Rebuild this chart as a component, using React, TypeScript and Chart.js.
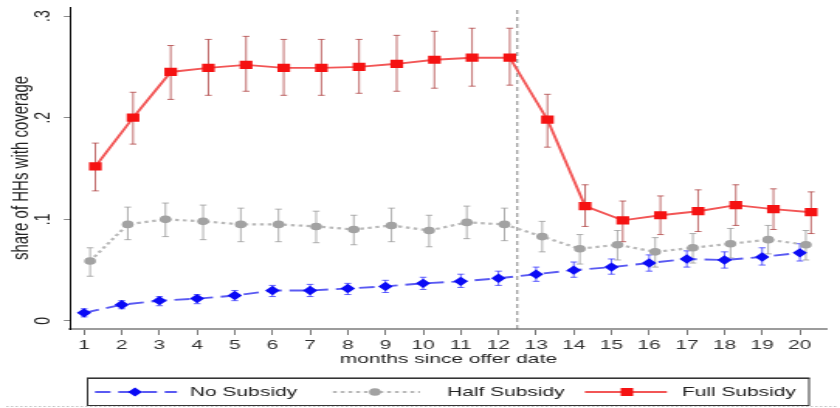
import React, { useEffect, useRef } from 'react';
import { Chart, registerables } from 'chart.js';

Chart.register(...registerables);

// ---------------- data ----------------
const months = [1, 2, 3, 4, 5, 6, 7, 8, 9, 10, 11, 12, 13, 14, 15, 16, 17, 18, 19, 20];
const monthLabels = ['1', '2', '3', '4', '5', '6', '7', '8', '9', '10', '11', '12', '13', '14', '15', '16', '17', '18', '19', '20'];
const yTickValues = [0, 0.1, 0.2, 0.3];
const yTickLabels = ['0', '.1', '.2', '.3'];
const seriesNames = ['No Subsidy', 'Half Subsidy', 'Full Subsidy'];
const treatmentEnd = 12.5;

const noSubsidy = [0.008, 0.016, 0.020, 0.022, 0.025, 0.030, 0.030, 0.032, 0.034, 0.037, 0.039, 0.042, 0.046, 0.050, 0.053, 0.057, 0.061, 0.060, 0.063, 0.067];
const noLo = [0.004, 0.012, 0.015, 0.017, 0.020, 0.024, 0.024, 0.026, 0.028, 0.031, 0.033, 0.035, 0.039, 0.043, 0.046, 0.049, 0.053, 0.052, 0.055, 0.059];
const noHi = [0.012, 0.020, 0.024, 0.026, 0.030, 0.035, 0.036, 0.037, 0.040, 0.043, 0.046, 0.049, 0.053, 0.058, 0.061, 0.065, 0.069, 0.068, 0.072, 0.076];

const halfSubsidy = [0.059, 0.095, 0.100, 0.098, 0.095, 0.095, 0.093, 0.090, 0.094, 0.089, 0.097, 0.095, 0.083, 0.071, 0.075, 0.068, 0.072, 0.076, 0.080, 0.075];
const halfLo = [0.044, 0.080, 0.083, 0.080, 0.078, 0.078, 0.077, 0.075, 0.078, 0.073, 0.081, 0.079, 0.068, 0.056, 0.060, 0.053, 0.057, 0.062, 0.066, 0.060];
const halfHi = [0.072, 0.112, 0.116, 0.114, 0.111, 0.110, 0.108, 0.104, 0.111, 0.104, 0.113, 0.111, 0.098, 0.085, 0.089, 0.082, 0.086, 0.091, 0.094, 0.089];

const fullSubsidy = [0.152, 0.200, 0.245, 0.249, 0.252, 0.249, 0.249, 0.250, 0.253, 0.257, 0.259, 0.259, 0.198, 0.113, 0.099, 0.104, 0.108, 0.114, 0.110, 0.107];
const fullLo = [0.128, 0.174, 0.218, 0.222, 0.226, 0.222, 0.222, 0.224, 0.226, 0.229, 0.231, 0.232, 0.171, 0.093, 0.078, 0.085, 0.088, 0.094, 0.090, 0.086];
const fullHi = [0.175, 0.225, 0.271, 0.277, 0.280, 0.277, 0.277, 0.277, 0.281, 0.285, 0.288, 0.288, 0.223, 0.134, 0.118, 0.123, 0.129, 0.134, 0.130, 0.127];

// horizontal jitter of the three series (in months)
const halfJitter = 0.16;
const fullJitter = 0.3;

// ---------------- look ----------------
const VIEW_W = 840;
const VIEW_H = 408;
const STRETCH = 1.55;
const CW = Math.round(VIEW_W / STRETCH);
const FONT = '"Liberation Sans", Arial, sans-serif';
const TEXT = '#222';

const BLUE = '#0a0af5';
const BLUE_LINE = '#5a5af2';
const GRAY = '#a2a2a2';
const GRAY_LINE = '#b8b8b8';
const RED = '#f51212';
const RED_LINE = '#f25656';

const errorBarPlugin = {
  id: 'errorBars',
  beforeDatasetsDraw(chart: any) {
    const { ctx } = chart;
    const xs = chart.scales.x;
    const ys = chart.scales.y;
    chart.data.datasets.forEach((ds: any) => {
      const eb = ds.errorBars;
      if (!eb) return;
      ctx.save();
      ctx.strokeStyle = eb.color;
      ctx.lineWidth = eb.width;
      const cap = 2.2;
      ds.data.forEach((pt: any, j: number) => {
        const px = xs.getPixelForValue(pt.x);
        const yl = ys.getPixelForValue(eb.lo[j]);
        const yh = ys.getPixelForValue(eb.hi[j]);
        ctx.beginPath();
        ctx.moveTo(px, yl);
        ctx.lineTo(px, yh);
        ctx.moveTo(px - cap, yl);
        ctx.lineTo(px + cap, yl);
        ctx.moveTo(px - cap, yh);
        ctx.lineTo(px + cap, yh);
        ctx.stroke();
      });
      ctx.restore();
    });
  },
};

const yLabelPlugin = {
  id: 'yRotLabels',
  afterDraw(chart: any) {
    const { ctx } = chart;
    const ys = chart.scales.y;
    ctx.save();
    ctx.font = `14px ${FONT}`;
    ctx.fillStyle = TEXT;
    ctx.textAlign = 'center';
    ctx.textBaseline = 'middle';
    ys.ticks.forEach((t: any, i: number) => {
      const py = ys.getPixelForValue(t.value);
      ctx.save();
      ctx.translate(ys.right - 17, py);
      ctx.rotate(-Math.PI / 2);
      ctx.fillText(yTickLabels[i], 0, 0);
      ctx.restore();
    });
    ctx.restore();
  },
};

function drawMarker(ctx: CanvasRenderingContext2D, kind: string, x: number, y: number, color: string) {
  ctx.fillStyle = color;
  ctx.beginPath();
  if (kind === 'rectRot') {
    ctx.moveTo(x, y - 4.6);
    ctx.lineTo(x + 4.6, y);
    ctx.lineTo(x, y + 4.6);
    ctx.lineTo(x - 4.6, y);
    ctx.closePath();
  } else if (kind === 'circle') {
    ctx.arc(x, y, 3.8, 0, Math.PI * 2);
  } else {
    ctx.rect(x - 4, y - 4, 8, 8);
  }
  ctx.fill();
}

const legendPlugin = {
  id: 'stataLegend',
  afterDraw(chart: any) {
    const { ctx } = chart;
    const top = 378;
    const bottom = 405;
    const left = 56;
    const right = 522.5;
    const cy = 392;
    ctx.save();
    // faint dotted frame line under the legend
    ctx.strokeStyle = '#c4c4c4';
    ctx.lineWidth = 1;
    ctx.setLineDash([1.5, 1.5]);
    ctx.beginPath();
    ctx.moveTo(4, 406.5);
    ctx.lineTo(CW - 2, 406.5);
    ctx.stroke();
    ctx.setLineDash([]);
    ctx.fillStyle = '#fff';
    ctx.fillRect(left, top, right - left, bottom - top);
    ctx.strokeStyle = '#8a8a8a';
    ctx.lineWidth = 2;
    ctx.beginPath();
    ctx.moveTo(left, top);
    ctx.lineTo(right, top);
    ctx.stroke();
    ctx.strokeStyle = '#333';
    ctx.lineWidth = 1;
    ctx.strokeRect(left + 0.5, top + 0.5, right - left - 1, bottom - top);

    const items = [
      { x0: 61.3, x1: 114.2, mx: 87.1, tx: 122.6, line: BLUE_LINE, lw: 1.8, dash: [10, 5], marker: 'rectRot', mc: BLUE, label: seriesNames[0] },
      { x0: 214.8, x1: 271, mx: 241.9, tx: 288.4, line: GRAY_LINE, lw: 2.2, dash: [2.5, 2.5], marker: 'circle', mc: GRAY, label: seriesNames[1] },
      { x0: 377.4, x1: 430.3, mx: 404.5, tx: 440, line: RED_LINE, lw: 1.8, dash: [], marker: 'rect', mc: RED, label: seriesNames[2] },
    ];
    items.forEach((it) => {
      ctx.strokeStyle = it.line;
      ctx.lineWidth = it.lw;
      ctx.setLineDash(it.dash);
      ctx.beginPath();
      ctx.moveTo(it.x0, cy);
      ctx.lineTo(it.x1, cy);
      ctx.stroke();
      ctx.setLineDash([]);
      drawMarker(ctx, it.marker, it.mx, cy, it.mc);
      ctx.fillStyle = TEXT;
      ctx.font = `13.5px ${FONT}`;
      ctx.textAlign = 'left';
      ctx.textBaseline = 'middle';
      ctx.fillText(it.label, it.tx, cy + 0.5);
    });
    ctx.restore();
  },
};

const X_MIN = 0.628;
const X_MAX = 20.717;
const Y_MIN = -0.0079;
const Y_MAX = 0.3089;

export default function App() {
  const canvasRef = useRef<HTMLCanvasElement | null>(null);

  useEffect(() => {
    const canvas = canvasRef.current;
    if (!canvas) return;
    const chart = new Chart(canvas, {
      type: 'line',
      data: {
        datasets: [
          {
            label: seriesNames[2],
            data: months.map((m, i) => ({ x: m + fullJitter, y: fullSubsidy[i] })),
            borderColor: RED_LINE,
            borderWidth: 1.9,
            pointStyle: 'rect',
            pointRadius: 5.8,
            pointBackgroundColor: RED,
            pointBorderWidth: 0,
            order: 0,
            errorBars: { lo: fullLo, hi: fullHi, color: 'rgba(168,52,52,0.9)', width: 0.8 },
          } as any,
          {
            label: seriesNames[1],
            data: months.map((m, i) => ({ x: m + halfJitter, y: halfSubsidy[i] })),
            borderColor: GRAY_LINE,
            borderWidth: 2.2,
            borderDash: [2.5, 2.5],
            pointStyle: 'circle',
            pointRadius: 3.8,
            pointBackgroundColor: GRAY,
            pointBorderWidth: 0,
            order: 1,
            errorBars: { lo: halfLo, hi: halfHi, color: '#9a9a9a', width: 0.8 },
          } as any,
          {
            label: seriesNames[0],
            data: months.map((m, i) => ({ x: m, y: noSubsidy[i] })),
            borderColor: BLUE_LINE,
            borderWidth: 1.9,
            borderDash: [10, 5],
            pointStyle: 'rectRot',
            pointRadius: 4.7,
            pointBackgroundColor: BLUE,
            pointBorderWidth: 0,
            order: 2,
            errorBars: { lo: noLo, hi: noHi, color: '#3a3aff', width: 0.8 },
          } as any,
          {
            label: 'offer end',
            data: [
              { x: treatmentEnd, y: Y_MIN },
              { x: treatmentEnd, y: Y_MAX },
            ],
            borderColor: '#666',
            borderWidth: 0.8,
            borderDash: [4, 3],
            pointRadius: 0,
            order: 3,
          } as any,
        ],
      },
      options: {
        animation: false,
        responsive: false,
        devicePixelRatio: 1,
        events: [],
        layout: { padding: { left: 0, right: 8.5, top: 7, bottom: 39 } },
        plugins: { legend: { display: false }, tooltip: { enabled: false } },
        scales: {
          x: {
            type: 'linear',
            min: X_MIN,
            max: X_MAX,
            afterBuildTicks: (scale: any) => {
              scale.ticks = months.map((m) => ({ value: m }));
            },
            afterFit: (scale: any) => {
              scale.height = 40;
            },
            ticks: {
              autoSkip: false,
              maxRotation: 0,
              padding: 2,
              color: '#333',
              font: { family: FONT, size: 13.5 },
              callback: (_v: any, i: number) => monthLabels[i],
            },
            grid: { drawOnChartArea: false, drawTicks: true, tickLength: 6, color: '#777', lineWidth: 1 },
            border: { display: true, color: '#9c9c9c', width: 2 },
            title: {
              display: true,
              text: 'months since offer date',
              color: TEXT,
              font: { family: FONT, size: 13.5 },
              padding: { top: 0, bottom: 2 },
            },
          },
          y: {
            type: 'linear',
            min: Y_MIN,
            max: Y_MAX,
            afterBuildTicks: (scale: any) => {
              scale.ticks = yTickValues.map((v) => ({ value: v }));
            },
            afterFit: (scale: any) => {
              scale.width = 45.2;
            },
            ticks: { display: false },
            grid: { drawOnChartArea: false, drawTicks: true, tickLength: 4, color: '#888', lineWidth: 1 },
            border: { display: true, color: '#000', width: 1 },
            title: {
              display: true,
              text: 'share of HHs with coverage',
              color: TEXT,
              font: { family: FONT, size: 15 },
              padding: { top: 5, bottom: 0 },
            },
          },
        },
      } as any,
      plugins: [errorBarPlugin, yLabelPlugin, legendPlugin],
    });
    return () => chart.destroy();
  }, []);

  return (
    <div style={{ position: 'fixed', left: 0, top: 0, width: VIEW_W, height: VIEW_H, background: '#fff' }}>
      <canvas
        ref={canvasRef}
        width={CW}
        height={VIEW_H}
        style={{ width: `${VIEW_W}px`, height: `${VIEW_H}px`, display: 'block' }}
      />
    </div>
  );
}
